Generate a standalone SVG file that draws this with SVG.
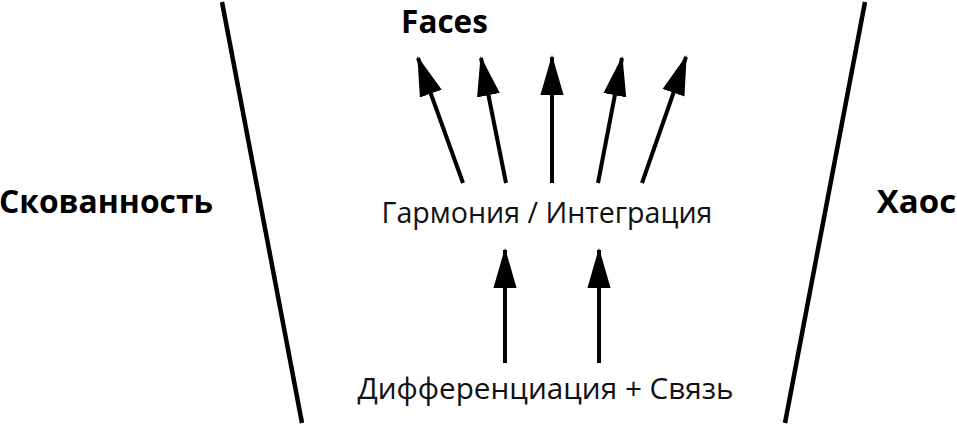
<svg xmlns="http://www.w3.org/2000/svg" width="957" height="427" viewBox="0 0 957 427">
<style>
.bold{font-family:"Open Sans","Noto Sans",sans-serif;font-weight:700;fill:#000}
.reg{font-family:"Open Sans","Noto Sans",sans-serif;font-weight:400;fill:#111}
.wall{stroke:#000;stroke-width:4.5;fill:none}
.arr{stroke:#000;stroke-width:4;fill:none;marker-end:url(#ah)}
</style>
<defs>
<marker id="ah" markerUnits="userSpaceOnUse" markerWidth="40" markerHeight="24" viewBox="0 0 38 22" refX="36" refY="11" orient="auto">
<path d="M0,0 L38,11 L0,22 Z" fill="#000"/>
</marker>
</defs>
<rect width="957" height="427" fill="#fff"/>
<g id="walls">
<line class="wall" x1="222" y1="2" x2="302" y2="423"/>
<line class="wall" x1="865" y1="2" x2="785" y2="423"/>
</g>
<g id="connectors">
<line class="arr" x1="463" y1="183" x2="418" y2="58"/>
<line class="arr" x1="506" y1="183" x2="481" y2="58"/>
<line class="arr" x1="552" y1="183" x2="552" y2="57"/>
<line class="arr" x1="598" y1="183" x2="622" y2="58"/>
<line class="arr" x1="642" y1="183" x2="686" y2="57"/>
<line class="arr" x1="505" y1="363" x2="505" y2="250"/>
<line class="arr" x1="599" y1="363" x2="599" y2="250"/>
</g>
<g id="node-faces"><text class="bold" x="444.5" y="33" font-size="31.5" text-anchor="middle">Faces</text></g>
<g id="node-skovannost"><text class="bold" x="106" y="213" font-size="31.8" text-anchor="middle">Скованность</text></g>
<g id="node-haos"><text class="bold" x="916.5" y="213" font-size="33" text-anchor="middle">Хаос</text></g>
<g id="node-harmony"><text class="reg" x="547" y="223" font-size="28.6" text-anchor="middle">Гармония / Интеграция</text></g>
<g id="node-diff"><text class="reg" x="545.5" y="399" font-size="29.7" text-anchor="middle">Дифференциация + Связь</text></g>
</svg>
